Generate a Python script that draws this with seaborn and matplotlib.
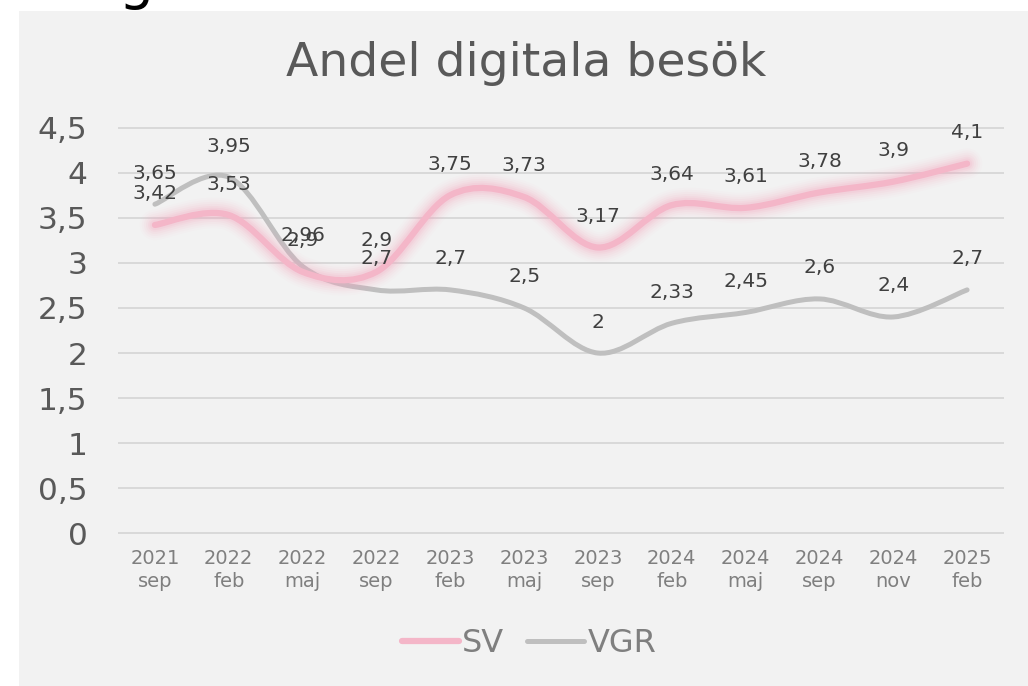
import numpy as np
import pandas as pd
import matplotlib
matplotlib.use("Agg")
import matplotlib.pyplot as plt
import seaborn as sns
from matplotlib.path import Path
from matplotlib.patches import PathPatch, Rectangle
from matplotlib.lines import Line2D
import matplotlib.patheffects as pe

# ---- data ----
years = ["2021", "2022", "2022", "2022", "2023", "2023", "2023", "2024", "2024", "2024", "2024", "2025"]
months = ["sep", "feb", "maj", "sep", "feb", "maj", "sep", "feb", "maj", "sep", "nov", "feb"]
sv = [3.42, 3.53, 2.9, 2.9, 3.75, 3.73, 3.17, 3.64, 3.61, 3.78, 3.9, 4.1]
vgr = [3.65, 3.95, 2.96, 2.7, 2.7, 2.5, 2.0, 2.33, 2.45, 2.6, 2.4, 2.7]
series_names = ["SV", "VGR"]
y_ticks = [0, 0.5, 1, 1.5, 2, 2.5, 3, 3.5, 4, 4.5]
title = "Andel digitala besök"

SV_COLOR = "#f4b6c8"
VGR_COLOR = "#bfbfbf"

sns.set_theme(style="white")
plt.rcParams["font.family"] = ["DejaVu Sans"]

fig = plt.figure(figsize=(10.28, 6.86), dpi=100)
fig.patch.set_facecolor("white")
fig.add_artist(Rectangle((19 / 1028, 0), 1, 1 - 11 / 686, transform=fig.transFigure,
                         facecolor="#f2f2f2", edgecolor="none", zorder=0))
ax = fig.add_axes([118 / 1028, 1 - 534 / 686, 886 / 1028, 407 / 686])
ax.set_facecolor("none")

cats = [f"{y}\n{m}" for y, m in zip(years, months)]
pos = list(range(len(cats)))
df = pd.DataFrame({
    "pos": pos * 2,
    "value": sv + vgr,
    "series": ["SV"] * len(sv) + ["VGR"] * len(vgr),
})
sns.lineplot(data=df, x="pos", y="value", hue="series", hue_order=series_names,
             palette={"SV": SV_COLOR, "VGR": VGR_COLOR}, ax=ax, legend=False,
             estimator=None, sort=False)


def smooth_path(xy):
    """Bezier path (Catmull-Rom style control points) through the data points."""
    pts = np.asarray(xy, dtype=float)
    n = len(pts)
    verts = [pts[0]]
    codes = [Path.MOVETO]
    for i in range(n - 1):
        p0 = pts[i - 1] if i > 0 else pts[i]
        p1 = pts[i]
        p2 = pts[i + 1]
        p3 = pts[i + 2] if i + 2 < n else pts[i + 1]
        c1 = p1 + (p2 - p0) / 6.0
        c2 = p2 - (p3 - p1) / 6.0
        verts += [c1, c2, p2]
        codes += [Path.CURVE4] * 3
    return Path(verts, codes)


lines = list(ax.get_lines())
for line, name in zip(lines, series_names):
    xy = line.get_xydata()
    line.set_visible(False)
    path = smooth_path(xy)
    if name == "SV":
        glow = [pe.Stroke(linewidth=w, foreground="#f5a9c0", alpha=a)
                for w, a in [(22, 0.04), (19, 0.05), (16, 0.07), (13, 0.09), (10, 0.12), (7.5, 0.15)]]
        patch = PathPatch(path, facecolor="none", edgecolor=SV_COLOR, lw=4.5,
                          capstyle="round", joinstyle="round", zorder=4,
                          path_effects=glow + [pe.Normal()])
    else:
        patch = PathPatch(path, facecolor="none", edgecolor=VGR_COLOR, lw=3.6,
                          capstyle="round", joinstyle="round", zorder=3)
    ax.add_patch(patch)


def fmt(v):
    return f"{v:g}".replace(".", ",")


for vals in (sv, vgr):
    for i, v in enumerate(vals):
        ax.annotate(fmt(v), (i, v), xytext=(0, 31), textcoords="offset pixels",
                    ha="center", va="center", fontsize=14.5, color="#404040", zorder=6)

ax.set_xlim(-0.5, len(cats) - 0.5)
ax.set_ylim(-0.006, 4.506)
ax.set_xticks(pos)
ax.set_xticklabels(cats, fontsize=14, color="#7f7f7f", linespacing=1.25)
ax.set_yticks(y_ticks)
ax.set_yticklabels([fmt(t) for t in y_ticks], fontsize=22.5, color="#595959")
ax.tick_params(axis="x", length=0, pad=11)
ax.tick_params(axis="y", length=0, pad=22)
ax.set_xlabel("")
ax.set_ylabel("")
ax.yaxis.grid(True, color="#d9d9d9", lw=1.4, zorder=0)
ax.xaxis.grid(False)
for s in ax.spines.values():
    s.set_visible(False)

fig.text(526 / 1028, 1 - 64 / 686, title, ha="center", va="center",
         fontsize=34, color="#595959")

# partial heading glyph cut off at the top-left
fig.text(137 / 1028, 1 + 2 / 686, "g", ha="center", va="baseline",
         fontsize=40, color="black")

handles = [Line2D([], [], color=SV_COLOR, lw=4.5, solid_capstyle="round"),
           Line2D([], [], color=VGR_COLOR, lw=3.6, solid_capstyle="round")]
leg = fig.legend(handles, series_names, loc="center", bbox_to_anchor=(529 / 1028, 1 - 644 / 686),
                 ncol=2, frameon=False, fontsize=23, handlelength=1.8,
                 handletextpad=0.1, columnspacing=0.7)
for t in leg.get_texts():
    t.set_color("#7f7f7f")

fig.savefig("out.png", dpi=100, facecolor=fig.get_facecolor())
